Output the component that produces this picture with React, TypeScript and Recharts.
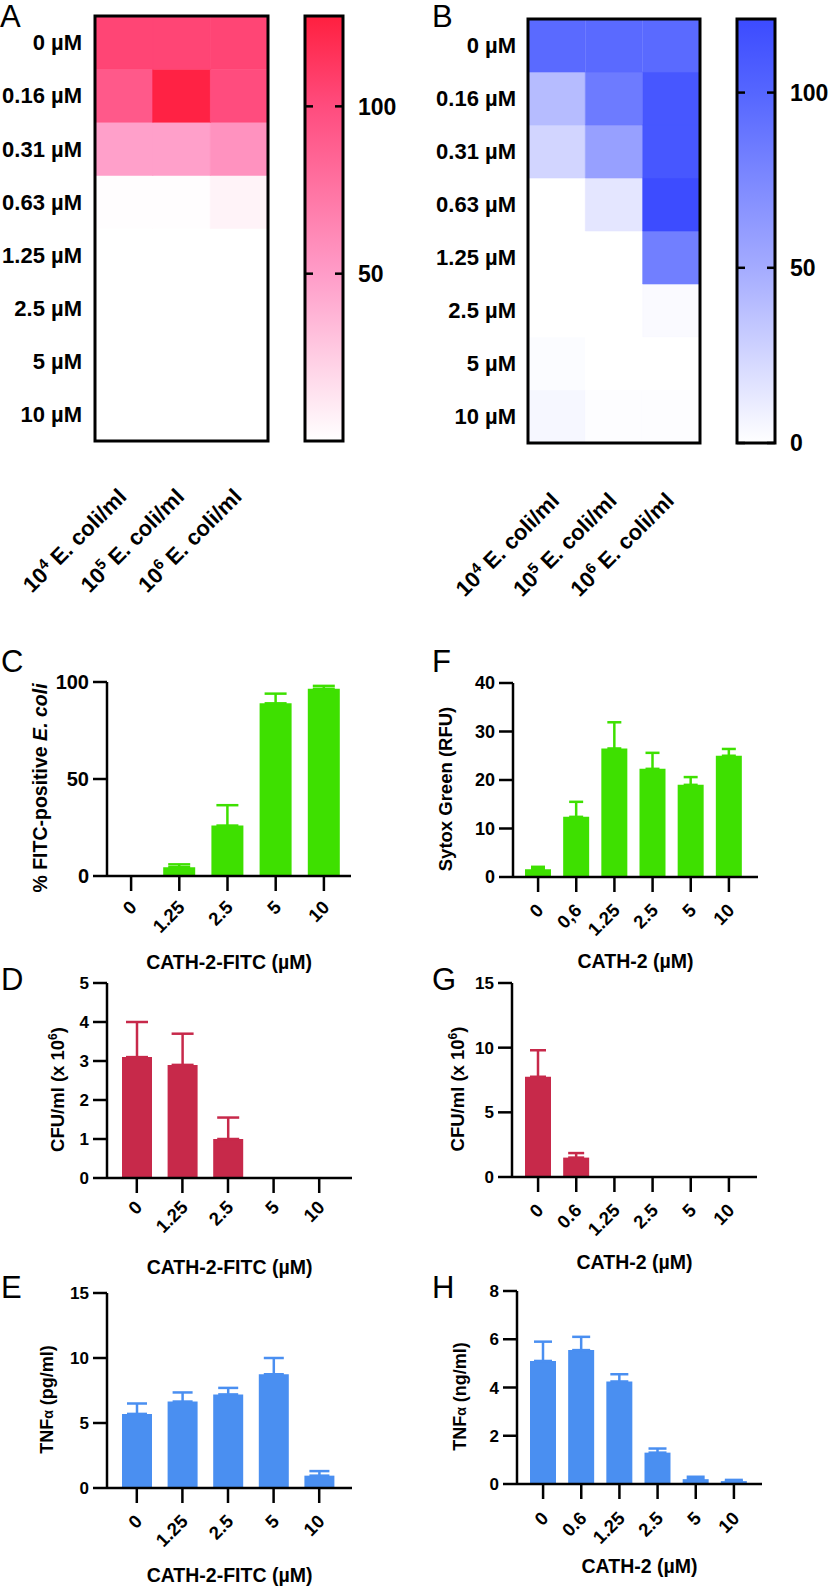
import React from 'react';
import { BarChart, Bar, XAxis, YAxis, ErrorBar, Cell } from 'recharts';

const FONT = '"Liberation Sans", Arial, Helvetica, sans-serif';

// heatmaps A (pink) and B (blue): rows = CATH-2 conc, cols = bacteria density
const concRows = ['0 µM', '0.16 µM', '0.31 µM', '0.63 µM', '1.25 µM', '2.5 µM', '5 µM', '10 µM'];
const ecoliExp = ['4', '5', '6'];
const heatA = [
  [104, 104, 104],
  [92, 125, 100],
  [48, 48, 56],
  [1, 1, 6],
  [0, 0, 0],
  [0, 0, 0],
  [0, 0, 0],
  [0, 0, 0],
];
const heatB = [
  [97, 97, 97],
  [40, 85, 112],
  [25, 58, 112],
  [0, 15, 120],
  [0, 0, 82],
  [0, 0, 3],
  [2, 0, 0],
  [5, 1, 1],
];
const pinkStops = [0, 50, 100, 127];
const pinkColors = ['#FFFFFF', '#FF9CC8', '#FF4C7E', '#FF1F3F'];
const blueStops = [0, 50, 100, 121];
const blueColors = ['#FFFFFF', '#A4ABFF', '#5566FF', '#3C4BFF'];
const scaleTicksA = [50, 100];
const scaleTicksB = [0, 50, 100];

// bar panels
const fitcDoses = ['0', '1.25', '2.5', '5', '10'];
const fitcPositive = [0, 4.5, 26, 89, 96.5];
const fitcPositiveSd = [0, 1.5, 10.5, 5, 1.5];
const fitcCfu = [3.1, 2.9, 1.0, 0.02, 0];
const fitcCfuSd = [0.9, 0.8, 0.55, 0, 0];
const fitcTnf = [5.7, 6.65, 7.2, 8.75, 0.95];
const fitcTnfSd = [0.8, 0.7, 0.5, 1.25, 0.35];

const sytoxDoses = ['0', '0,6', '1.25', '2.5', '5', '10'];
const sytox = [1.6, 12.4, 26.5, 22.3, 19, 25];
const sytoxSd = [0.5, 3.1, 5.4, 3.3, 1.6, 1.4];
const cathDoses = ['0', '0.6', '1.25', '2.5', '5', '10'];
const cathCfu = [7.75, 1.5, 0, 0, 0, 0];
const cathCfuSd = [2.05, 0.35, 0, 0, 0, 0];
const cathTnf = [5.1, 5.55, 4.25, 1.3, 0.2, 0.12];
const cathTnfSd = [0.8, 0.55, 0.3, 0.17, 0.1, 0.05];

const GREEN = '#3EE000';
const RED = '#C7294A';
const BLUE = '#4A8FF1';

const axisStyle = { stroke: '#000', strokeWidth: 2.5 };

const hexRgb = (c: string) => [1, 3, 5].map((i) => parseInt(c.slice(i, i + 2), 16));
const heatColor = (v: number, stops: number[], colors: string[]) => {
  let i = 0;
  while (i < stops.length - 2 && v > stops[i + 1]) i++;
  const t = Math.max(0, Math.min(1, (v - stops[i]) / (stops[i + 1] - stops[i])));
  const a = hexRgb(colors[i]);
  const b = hexRgb(colors[i + 1]);
  return `rgb(${a.map((x, k) => Math.round(x + (b[k] - x) * t)).join(',')})`;
};

const EcoliTick = (props: any) => {
  const { x, y, payload, offX, offY } = props;
  const ax = x + offX;
  const ay = y + offY;
  return (
    <text x={ax} y={ay} transform={`rotate(-45 ${ax} ${ay})`} textAnchor="end"
      fontSize={22} fontWeight="bold" fill="#000" fontFamily={FONT}>
      <tspan>10</tspan>
      <tspan dy={-8} fontSize={15}>{payload.value}</tspan>
      <tspan dy={8}>{' E. coli/ml'}</tspan>
    </text>
  );
};

const HEAT_XAXIS_H = 175;

const Heatmap = (p: any) => {
  const data = ecoliExp.map((e) => {
    const row: any = { col: e };
    concRows.forEach((_, i) => { row[`r${i}`] = 1; });
    return row;
  });
  const order = concRows.map((_, i) => concRows.length - 1 - i); // bottom row first
  const ticks = concRows.map((_, i) => i + 0.5);
  const w = p.yAxisW + p.plotW + 4;
  const h = p.mTop + p.plotH + HEAT_XAXIS_H;
  return (
    <div style={{ position: 'absolute', left: p.left, top: 0, width: w, height: h }}>
      <div style={{ position: 'absolute', left: 0, top: 0 }}>
        <BarChart width={w} height={h} data={data}
          margin={{ top: p.mTop, right: 4, bottom: 0, left: 0 }} barCategoryGap={0} barGap={0}>
          {order.map((i) => (
            <Bar key={i} dataKey={`r${i}`} stackId="h" isAnimationActive={false}>
              {data.map((_, j) => {
                const f = heatColor(p.values[i][j], p.stops, p.colors);
                return <Cell key={j} fill={f} stroke={f} strokeWidth={0.6} />;
              })}
            </Bar>
          ))}
          <XAxis dataKey="col" height={HEAT_XAXIS_H} interval={0} axisLine={false} tickLine={false}
            tickSize={0} tickMargin={0} tick={<EcoliTick offX={p.labX} offY={p.labY} />} />
          <YAxis type="number" width={p.yAxisW} domain={[0, concRows.length]} ticks={ticks} interval={0}
            tickFormatter={(v: number) => concRows[concRows.length - 1 - Math.floor(v)]}
            axisLine={false} tickLine={false} tickSize={0} tickMargin={p.rowGap}
            tick={{ fontSize: 22, fontWeight: 'bold', fill: '#000' }} />
        </BarChart>
      </div>
      {/* black frame around the grid */}
      <div style={{ position: 'absolute', left: 0, top: 0, pointerEvents: 'none' }}>
        <BarChart width={w} height={h} data={[{ k: 'frame', v: concRows.length }]}
          margin={{ top: p.mTop, right: 4, bottom: HEAT_XAXIS_H, left: p.yAxisW }} barCategoryGap={0}>
          <XAxis dataKey="k" hide />
          <YAxis hide type="number" domain={[0, concRows.length]} />
          <Bar dataKey="v" fill="none" stroke="#000" strokeWidth={3} isAnimationActive={false} />
        </BarChart>
      </div>
    </div>
  );
};

const ScaleTick = (props: any) => {
  const { x, y, payload, barW } = props;
  const edge = x - 15;
  return (
    <g>
      <line x1={edge - barW} x2={edge - barW + 8} y1={y} y2={y} stroke="#000" strokeWidth={2.5} />
      <line x1={edge - 8} x2={edge} y1={y} y2={y} stroke="#000" strokeWidth={2.5} />
      <text x={x} y={y} dy="0.36em" textAnchor="start" fontSize={23} fontWeight="bold" fill="#000" fontFamily={FONT}>
        {payload.value}
      </text>
    </g>
  );
};

const ColorScale = (p: any) => {
  const max = p.stops[p.stops.length - 1];
  const data = [{ k: 'scale', v: max }];
  return (
    <div style={{ position: 'absolute', left: p.left, top: 0 }}>
      <BarChart width={5 + p.plotW + 70} height={p.mTop + p.plotH + 16} data={data}
        margin={{ top: p.mTop, right: 0, bottom: 16, left: 5 }} barCategoryGap={0}>
        <defs>
          <linearGradient id={p.id} x1="0" y1="1" x2="0" y2="0">
            {p.stops.map((s: number, i: number) => (
              <stop key={i} offset={s / max} stopColor={p.colors[i]} />
            ))}
          </linearGradient>
        </defs>
        <XAxis dataKey="k" hide />
        <YAxis orientation="right" width={70} domain={[0, max]} ticks={p.ticks} interval={0}
          axisLine={false} tickLine={false} tickSize={0} tickMargin={15} tick={<ScaleTick barW={p.plotW} />} />
        <Bar dataKey="v" fill={`url(#${p.id})`} stroke="#000" strokeWidth={3} isAnimationActive={false} />
      </BarChart>
    </div>
  );
};

const RotTick = (props: any) => {
  const { x, y, payload, offY } = props;
  const ax = x + 2;
  const ay = y + offY;
  return (
    <text x={ax} y={ay} dy="0.35em" transform={`rotate(-45 ${ax} ${ay})`} textAnchor="end"
      fontSize={18.5} fontWeight="bold" fill="#000" fontFamily={FONT}>
      {payload.value}
    </text>
  );
};

const XTitle = (props: any) => {
  const vb = props.viewBox || { x: 0, y: 0, width: 0, height: 0 };
  return (
    <text x={vb.x + vb.width / 2} y={vb.y + props.base} textAnchor="middle" fontSize={19.5}
      fontWeight="bold" fill="#000" fontFamily={FONT}>
      {props.text}
    </text>
  );
};

const YTitle = (props: any) => {
  const vb = props.viewBox || { x: 0, y: 0, width: 0, height: 0 };
  const cx = vb.x + vb.width - props.gap;
  const cy = vb.y + vb.height / 2 + 9;
  return (
    <text x={cx} y={cy} dy="0.36em" transform={`rotate(-90 ${cx} ${cy})`} textAnchor="middle"
      fontSize={props.size} fontWeight="bold" fill="#000" fontFamily={FONT}>
      {props.children}
    </text>
  );
};

const BarPanel = (p: any) => {
  const data = p.labels.map((c: string, i: number) => ({
    c,
    v: p.means[i],
    e: p.sds[i] > 0 ? [0, p.sds[i]] : null,
  }));
  const xAxisH = p.xTitleBase + 8;
  return (
    <div style={{ position: 'absolute', left: p.left, top: p.plotTop - 12 }}>
      <BarChart width={p.yAxisW + p.plotW + 20} height={12 + p.plotH + xAxisH} data={data}
        margin={{ top: 12, right: 20, bottom: 0, left: 0 }} barCategoryGap={0}>
        <Bar dataKey="v" fill={p.color} barSize={p.barSize} isAnimationActive={false}>
          <ErrorBar dataKey="e" direction="y" width={p.capW} stroke={p.color} strokeWidth={2.5}
            isAnimationActive={false} />
        </Bar>
        <XAxis dataKey="c" interval={0} height={xAxisH} padding={p.pad} axisLine={axisStyle}
          tickLine={axisStyle} tickSize={15} tickMargin={2} tick={<RotTick offY={p.tickOffY} />}
          label={<XTitle text={p.xTitle} base={p.xTitleBase} />} />
        <YAxis type="number" width={p.yAxisW} domain={[0, p.yMax]} ticks={p.yTicks} interval={0}
          axisLine={axisStyle} tickLine={axisStyle} tickSize={14} tickMargin={4}
          tick={{ fontSize: p.yTickFont, fontWeight: 'bold', fill: '#000' }}
          label={<YTitle gap={p.yTitleGap} size={p.yTitleSize}>{p.yTitle}</YTitle>} />
      </BarChart>
    </div>
  );
};

const panelLetters: [string, number, number][] = [
  ['A', 0, 27], ['B', 432, 27], ['C', 1, 672], ['F', 432, 672],
  ['D', 1, 990], ['G', 432, 990], ['E', 1, 1298], ['H', 432, 1298],
];

export default function App() {
  return (
    <div style={{ position: 'absolute', left: 0, top: 0, width: 828, height: 1587, overflow: 'hidden',
      background: '#fff', fontFamily: FONT }}>
      <Heatmap left={0} yAxisW={95} plotW={173} mTop={16} plotH={425} rowGap={13}
        values={heatA} stops={pinkStops} colors={pinkColors} labX={4} labY={57} />
      <ColorScale left={300} plotW={38} mTop={16} plotH={425} id="pinkScale"
        stops={pinkStops} colors={pinkColors} ticks={scaleTicksA} />
      <Heatmap left={410} yAxisW={118} plotW={172} mTop={19} plotH={424} rowGap={12}
        values={heatB} stops={blueStops} colors={blueColors} labX={4} labY={59} />
      <ColorScale left={732} plotW={38} mTop={19} plotH={424} id="blueScale"
        stops={blueStops} colors={blueColors} ticks={scaleTicksB} />

      <BarPanel left={0} plotTop={682} yAxisW={107} plotW={244} plotH={194} pad={{ left: 0, right: 3 }}
        labels={fitcDoses} means={fitcPositive} sds={fitcPositiveSd} color={GREEN} barSize={32} capW={11}
        yMax={100} yTicks={[0, 50, 100]} yTickFont={20} tickOffY={11}
        xTitle="CATH-2-FITC (µM)" xTitleBase={93} yTitleGap={67} yTitleSize={19.5}
        yTitle={<><tspan>% FITC-positive </tspan><tspan fontStyle="italic">E. coli</tspan></>} />
      <BarPanel left={413} plotTop={683} yAxisW={100} plotW={245} plotH={194} pad={{ left: 6, right: 10 }}
        labels={sytoxDoses} means={sytox} sds={sytoxSd} color={GREEN} barSize={26} capW={7}
        yMax={40} yTicks={[0, 10, 20, 30, 40]} yTickFont={18} tickOffY={13}
        xTitle="CATH-2 (µM)" xTitleBase={91} yTitleGap={68} yTitleSize={18.5}
        yTitle="Sytox Green (RFU)" />
      <BarPanel left={0} plotTop={983} yAxisW={107} plotW={245} plotH={195} pad={{ left: 7, right: 10 }}
        labels={fitcDoses} means={fitcCfu} sds={fitcCfuSd} color={RED} barSize={30} capW={11}
        yMax={5} yTicks={[0, 1, 2, 3, 4, 5]} yTickFont={17} tickOffY={9}
        xTitle="CATH-2-FITC (µM)" xTitleBase={96} yTitleGap={50} yTitleSize={18.5}
        yTitle={<><tspan>CFU/ml (x 10</tspan><tspan dy={-7} fontSize={12}>6</tspan><tspan dy={7}>)</tspan></>} />
      <BarPanel left={412} plotTop={983} yAxisW={100} plotW={245} plotH={194} pad={{ left: 7, right: 9 }}
        labels={cathDoses} means={cathCfu} sds={cathCfuSd} color={RED} barSize={26} capW={8}
        yMax={15} yTicks={[0, 5, 10, 15]} yTickFont={17} tickOffY={13}
        xTitle="CATH-2 (µM)" xTitleBase={92} yTitleGap={55} yTitleSize={18.5}
        yTitle={<><tspan>CFU/ml (x 10</tspan><tspan dy={-7} fontSize={12}>6</tspan><tspan dy={7}>)</tspan></>} />
      <BarPanel left={0} plotTop={1293} yAxisW={107} plotW={245} plotH={195} pad={{ left: 7, right: 10 }}
        labels={fitcDoses} means={fitcTnf} sds={fitcTnfSd} color={BLUE} barSize={30} capW={10}
        yMax={15} yTicks={[0, 5, 10, 15]} yTickFont={17} tickOffY={13}
        xTitle="CATH-2-FITC (µM)" xTitleBase={94} yTitleGap={60} yTitleSize={18}
        yTitle={<><tspan>TNF</tspan><tspan fontSize={14}>α</tspan><tspan>{'  (pg/ml)'}</tspan></>} />
      <BarPanel left={417} plotTop={1291} yAxisW={100} plotW={245} plotH={193} pad={{ left: 7, right: 9 }}
        labels={cathDoses} means={cathTnf} sds={cathTnfSd} color={BLUE} barSize={26} capW={9}
        yMax={8} yTicks={[0, 2, 4, 6, 8]} yTickFont={17} tickOffY={14}
        xTitle="CATH-2 (µM)" xTitleBase={89} yTitleGap={57} yTitleSize={18}
        yTitle={<><tspan>TNF</tspan><tspan fontSize={14}>α</tspan><tspan>{'  (ng/ml)'}</tspan></>} />

      <svg width={828} height={1587} style={{ position: 'absolute', left: 0, top: 0, pointerEvents: 'none' }}>
        {panelLetters.map(([t, x, y]) => (
          <text key={t} x={x} y={y} fontSize={31} fill="#000" fontFamily={FONT}>{t}</text>
        ))}
      </svg>
    </div>
  );
}
